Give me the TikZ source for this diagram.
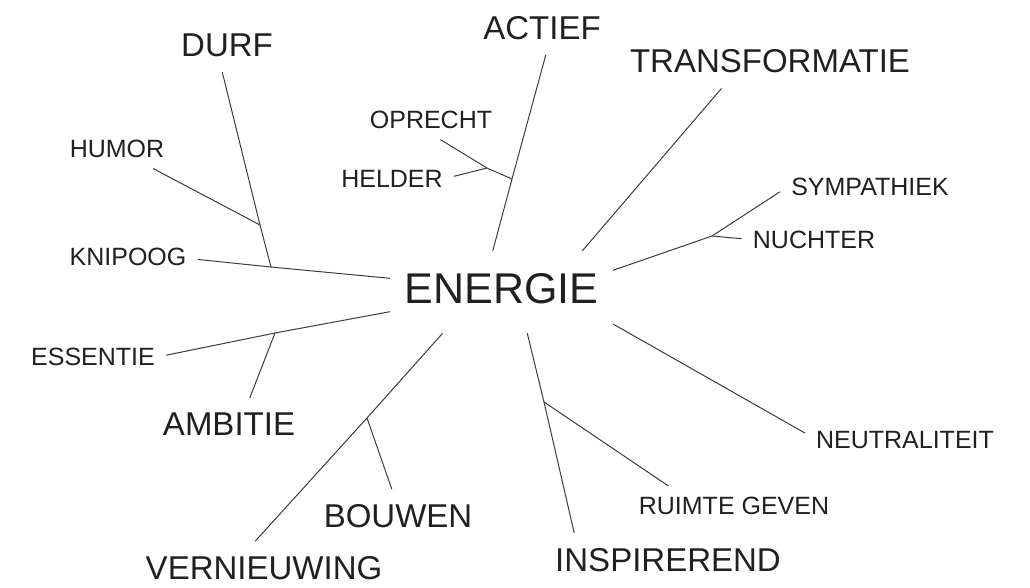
\documentclass[tikz,border=0pt]{standalone}
\usepackage{fontspec}
\setmainfont{Liberation Sans}
\definecolor{inkgray}{HTML}{231F20}
\definecolor{linegray}{HTML}{3C3C3C}

\begin{document}
\begin{tikzpicture}[x=1pt,y=-1pt,
  hub/.style={text=inkgray,font=\fontsize{43}{46}\selectfont,inner xsep=14.5pt,inner ysep=12pt,
    text height=40pt,text depth=18pt,anchor=base},
  big/.style={text=inkgray,font=\fontsize{33}{36}\selectfont,inner sep=15pt},
  small/.style={text=inkgray,font=\fontsize{25}{28}\selectfont,inner sep=11pt},
  every edge/.style={draw=linegray,line width=1pt}]
  \useasboundingbox (0,0) rectangle (1030,587);

  \node[hub]   (energie)      at (501.5,303) {ENERGIE};

  \node[big]   (durf)         at (227,45.5)  {DURF};
  \node[big]   (actief)       at (542,28)    {ACTIEF};
  \node[big]   (transformatie) at (770,61.5) {TRANSFORMATIE};
  \node[big]   (ambitie)      at (229,424.5) {AMBITIE};
  \node[big]   (bouwen)       at (398,516)   {BOUWEN};
  \node[big]   (vernieuwing)  at (264,568)   {VERNIEUWING};
  \node[big]   (inspirerend)  at (668,560)   {INSPIREREND};

  \node[small] (humor)        at (117,148.5) {HUMOR};
  \node[small] (knipoog)      at (128,257)   {KNIPOOG};
  \node[small] (oprecht)      at (431,119.5) {OPRECHT};
  \node[small] (helder)       at (392,178.5) {HELDER};
  \node[small] (sympathiek)   at (870,187)   {SYMPATHIEK};
  \node[small] (nuchter)      at (814,240)   {NUCHTER};
  \node[small] (essentie)     at (93,356.5)  {ESSENTIE};
  \node[small] (neutraliteit) at (905,440)   {NEUTRALITEIT};
  \node[small] (ruimte)       at (734,506)   {RUIMTE GEVEN};

  % branch points
  \coordinate (j-durf)    at (271,267);
  \coordinate (j-humor)   at (260,225);
  \coordinate (j-actief)  at (512,179);
  \coordinate (j-helder)  at (487,168);
  \coordinate (j-nuchter) at (712,236);
  \coordinate (j-ambitie) at (275,333);
  \coordinate (j-bouwen)  at (367,418);
  \coordinate (j-ruimte)  at (544,402);

  \path (energie.173) edge (j-durf)
        (j-durf)      edge (knipoog.358)
        (j-durf)      edge (j-humor)
        (j-humor)     edge (durf.260)
        (j-humor)     edge (humor.331);
  \path (energie.102) edge (j-actief)
        (j-actief)    edge (actief.278)
        (j-actief)    edge (j-helder)
        (j-helder)    edge (oprecht.295)
        (j-helder)    edge (helder.2);
  \path (energie.27)  edge (transformatie.209);
  \path (energie.11)  edge (j-nuchter)
        (j-nuchter)   edge (sympathiek.183)
        (j-nuchter)   edge (nuchter.179);
  \path (energie.344) edge (neutraliteit.176);
  \path (energie.302) edge (j-ruimte)
        (j-ruimte)    edge (inspirerend.164)
        (j-ruimte)    edge (ruimte.163);
  \path (energie.215) edge (j-bouwen)
        (j-bouwen)    edge (vernieuwing.108)
        (j-bouwen)    edge (bouwen.103);
  \path (energie.190) edge (j-ambitie)
        (j-ambitie)   edge (essentie.1)
        (j-ambitie)   edge (ambitie.52);
\end{tikzpicture}
\end{document}
